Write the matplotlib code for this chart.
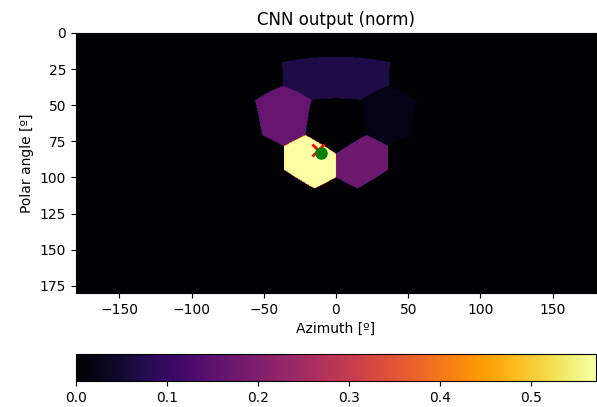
import numpy as np
import matplotlib
matplotlib.use('Agg')
import matplotlib.pyplot as plt
from matplotlib.ticker import MultipleLocator

# CNN output per detector cell (cell centre azimuth / polar angle in degrees)
cell_azimuth = [0, 0, -36, 36, -18, 18]
cell_polar = [62, 31, 57, 57, 89, 89]
cell_output = [0.0, 0.068, 0.165, 0.023, 0.571, 0.178]

# true / predicted direction
true_az, true_pol = -12.3, 81.3
pred_az, pred_pol = -10.4, 83.1

# detector: chamfered dodecahedron (12 pentagons + 30 hexagons)
pent_centre_pol = 62.5
pent_plane = 0.986  # pentagon plane distance relative to hexagons


def direction(az, pol):
    az = np.radians(az)
    pol = np.radians(pol)
    return np.stack([np.sin(pol) * np.cos(az), np.sin(pol) * np.sin(az), np.cos(pol)], axis=-1)


def unit(v):
    return v / np.linalg.norm(v, axis=-1, keepdims=True)


g = (1 + 5 ** 0.5) / 2
ico = []
for a in (-1, 1):
    for b in (-1, 1):
        ico += [(0, a, b * g), (a, b * g, 0), (b * g, 0, a)]
ico = np.array(ico, float)
edges = [(i, j) for i in range(12) for j in range(i + 1, 12)
         if abs(np.linalg.norm(ico[i] - ico[j]) - 2) < 1e-6]
mids = np.array([(ico[i] + ico[j]) / 2 for i, j in edges])
normals = unit(np.vstack([ico, mids]))
h = np.r_[np.full(12, pent_plane), np.ones(len(mids))]

# rotate so a pentagon sits at azimuth 0 with one hexagon straight above it
p = normals[0]
m = normals[12 + [k for k, e in enumerate(edges) if 0 in e][0]]
e2 = unit(m - (m @ p) * p)
E = np.column_stack([p, e2, np.cross(p, e2)])
tp = direction(0, pent_centre_pol)
th = direction(0, pent_centre_pol - 31.72)
f2 = unit(th - (th @ tp) * tp)
F = np.column_stack([tp, f2, np.cross(tp, f2)])
normals = normals @ (F @ E.T).T

# face values
vals = np.zeros(len(normals))
for az, pol, v in zip(cell_azimuth, cell_polar, cell_output):
    vals[np.argmax(normals @ direction(az, pol))] = v

step = 0.5
az_grid = np.arange(-180 + step / 2, 180, step)
pol_grid = np.arange(step / 2, 180, step)
AZ, POL = np.meshgrid(az_grid, pol_grid)
D = direction(AZ, POL)
face = np.argmax((D @ normals.T) / h, axis=-1)
img = vals[face]

fig = plt.figure(figsize=(5.97, 4.07), dpi=100)
ax = fig.add_axes([76 / 597, 114 / 407, 520 / 597, 260 / 407])
im = ax.imshow(img, cmap='inferno', extent=[-180, 180, 180, 0],
               interpolation='antialiased', interpolation_stage='data')
ax.plot(true_az, true_pol, 'x', color='red', markersize=8, mew=2)
ax.plot(pred_az, pred_pol, 'o', color='green', markersize=8)
ax.yaxis.set_major_locator(MultipleLocator(25))
ax.set_title('CNN output (norm)')
ax.set_xlabel('Azimuth [º]')
ax.set_ylabel('Polar angle [º]')

cax = fig.add_axes([76 / 597, 26 / 407, 520 / 597, 27 / 407])
fig.colorbar(im, cax=cax, orientation='horizontal')

fig.savefig('out.png', dpi=100)
